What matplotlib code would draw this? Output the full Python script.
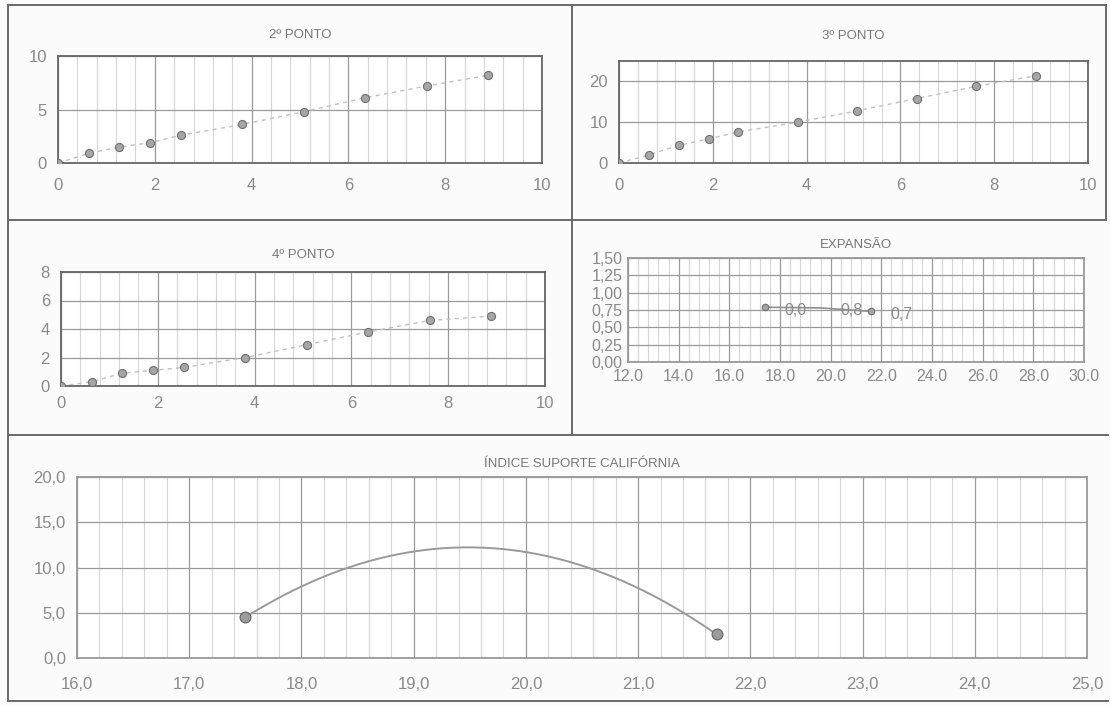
import matplotlib
matplotlib.use("Agg")
import matplotlib.pyplot as plt
from matplotlib.lines import Line2D
from matplotlib.ticker import MultipleLocator, FuncFormatter
import numpy as np

plt.rcParams['font.family'] = ['Liberation Sans', 'DejaVu Sans']

# penetracao (mm) x pressao
penetracao = [0, 0.64, 1.27, 1.91, 2.54, 3.81, 5.08, 6.35, 7.62, 8.89]
ponto2 = [0, 0.9, 1.5, 1.9, 2.6, 3.6, 4.8, 6.1, 7.2, 8.2]
ponto3 = [0, 2.0, 4.3, 5.9, 7.6, 10.0, 12.8, 15.8, 18.8, 21.4]
ponto4 = [0, 0.3, 0.9, 1.1, 1.3, 2.0, 2.9, 3.8, 4.6, 4.9]

# expansao x umidade
exp_umid = [17.4, 19.6, 21.6]
exp_val = [0.79, 0.78, 0.73]
exp_lbl = ["0,0", "0,8", "0,7"]

# ISC x umidade (ponto do meio so entra na linha de tendencia)
isc_umid = [17.5, 19.6, 21.7]
isc_val = [4.5, 12.2, 2.6]

W, H = 1110, 705
fig = plt.figure(figsize=(W/100, H/100), dpi=100)
fig.patch.set_facecolor('#fbfbfb')

TXT = '#8a8a8a'
GRID = '#9a9a9a'
MINOR = '#d6d6d6'


def px_axes(l, t, r, b):
    return fig.add_axes([l/W, 1-b/H, (r-l)/W, (b-t)/H])


def hline(y, x0, x1, c='#6a6a6a', lw=1.4):
    fig.add_artist(Line2D([x0/W, x1/W], [1-y/H, 1-y/H], color=c, lw=lw))


def vline(x, y0, y1, c='#6a6a6a', lw=1.4):
    fig.add_artist(Line2D([x/W, x/W], [1-y0/H, 1-y1/H], color=c, lw=lw))


def style(ax, title, tpad, xpad, tfs=9.5, border='#777777', bstyle='-', lsize=12):
    ax.set_facecolor('white')
    ax.set_title(title, fontsize=tfs, color='#777777', pad=tpad)
    for s in ax.spines.values():
        s.set_color(border)
        s.set_linestyle(bstyle)
        s.set_linewidth(1.3)
    ax.tick_params(axis='both', which='both', length=0, colors=TXT, labelsize=lsize)
    ax.tick_params(axis='x', pad=xpad)
    ax.tick_params(axis='y', pad=8)
    ax.grid(True, which='major', color=GRID, lw=0.9)
    ax.grid(True, which='minor', axis='x', color=MINOR, lw=0.8)
    ax.set_axisbelow(True)


def ponto_panel(ax, y, title, ymax, ystep, tpad, xpad, bstyle='-'):
    ax.plot(penetracao, y, linestyle=(0, (3, 3)), color='#c2c2c2', lw=1, zorder=2)
    ax.scatter(penetracao, y, s=34, color='#a6a6a6', edgecolors='#707070', linewidths=0.8, zorder=3)
    ax.set_xlim(0, 10)
    ax.set_ylim(0, ymax)
    ax.xaxis.set_major_locator(MultipleLocator(2))
    ax.xaxis.set_minor_locator(MultipleLocator(0.4))
    ax.yaxis.set_major_locator(MultipleLocator(ystep))
    style(ax, title, tpad, xpad, border='#666666', bstyle=bstyle)


ax1 = px_axes(58, 56, 542, 163)
ponto_panel(ax1, ponto2, "2º PONTO", 10, 5, 13, 11, bstyle=(0, (1, 1)))

ax2 = px_axes(619, 61, 1088, 163)
ponto_panel(ax2, ponto3, "3º PONTO", 25, 10, 16, 11)
ax2.set_yticks([0, 10, 20])

ax3 = px_axes(61, 272, 545, 386)
ponto_panel(ax3, ponto4, "4º PONTO", 8, 2, 10, 7)

# EXPANSAO
ax4 = px_axes(628, 258, 1084, 362)
ax4.plot(exp_umid, exp_val, color='#909090', lw=1.2, zorder=2)
ax4.scatter([exp_umid[0], exp_umid[2]], [exp_val[0], exp_val[2]], s=22, color='#a6a6a6',
            edgecolors='#707070', linewidths=0.8, zorder=3)
for xv, yv, t in zip(exp_umid, exp_val, exp_lbl):
    ax4.annotate(t, (xv, yv), xytext=(14, -2), textcoords='offset points', va='center',
                 fontsize=11.5, color=TXT)
ax4.set_xlim(12, 30)
ax4.set_ylim(0, 1.5)
ax4.xaxis.set_major_locator(MultipleLocator(2))
ax4.xaxis.set_minor_locator(MultipleLocator(0.4))
ax4.yaxis.set_major_locator(MultipleLocator(0.25))
ax4.xaxis.set_major_formatter(FuncFormatter(lambda v, p: f"{v:.1f}"))
ax4.yaxis.set_major_formatter(FuncFormatter(lambda v, p: f"{v:.2f}".replace('.', ',')))
style(ax4, "EXPANSÃO", 7, 5, border='#999999', lsize=11.5)
ax4.tick_params(axis='y', pad=4)

# ISC
ax5 = px_axes(77, 477, 1087, 658)
coef = np.polyfit(isc_umid, isc_val, 2)
xs = np.linspace(isc_umid[0], isc_umid[-1], 200)
ax5.plot(xs, np.polyval(coef, xs), color='#9a9a9a', lw=1.4, zorder=2)
ax5.scatter([isc_umid[0], isc_umid[-1]], [isc_val[0], isc_val[-1]], s=60, color='#9c9c9c',
            edgecolors='#6a6a6a', linewidths=0.9, zorder=3)
ax5.set_xlim(16, 25)
ax5.set_ylim(0, 20)
ax5.xaxis.set_major_locator(MultipleLocator(1))
ax5.xaxis.set_minor_locator(MultipleLocator(0.2))
ax5.yaxis.set_major_locator(MultipleLocator(5))
fmt = FuncFormatter(lambda v, p: f"{v:.1f}".replace('.', ','))
ax5.xaxis.set_major_formatter(fmt)
ax5.yaxis.set_major_formatter(fmt)
style(ax5, "ÍNDICE SUPORTE CALIFÓRNIA", 7, 14, border='#999999')

# molduras da folha
hline(5, 8, 1106)
hline(220, 8, 1106)
hline(435, 8, 1108)
hline(701, 8, 1108)
vline(8, 5, 701)
vline(572, 5, 435)
vline(1106, 5, 220)

fig.savefig("out.png", dpi=100, facecolor=fig.get_facecolor())
